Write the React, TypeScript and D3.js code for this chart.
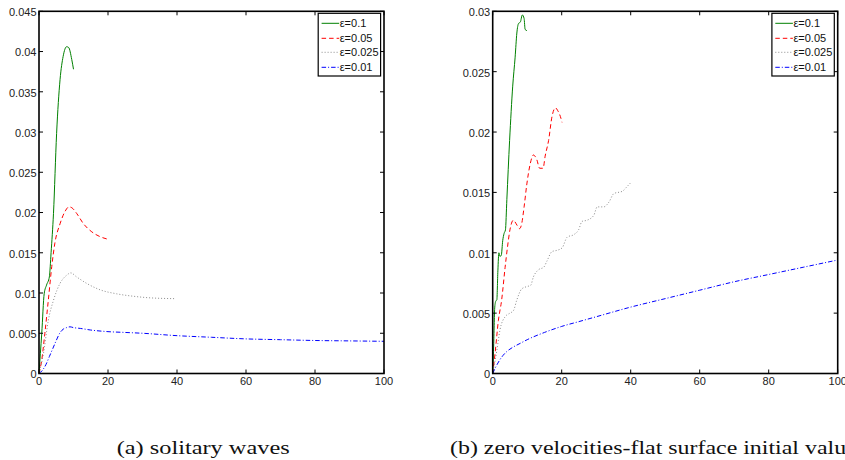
import React from "react";
import * as d3 from "d3";

// ---------- data ----------
const legendLabels = ["ε=0.1", "ε=0.05", "ε=0.025", "ε=0.01"];
const xTicks = [0, 20, 40, 60, 80, 100];
const yTicksA = [0, 0.005, 0.01, 0.015, 0.02, 0.025, 0.03, 0.035, 0.04, 0.045];
const yTicksB = [0, 0.005, 0.01, 0.015, 0.02, 0.025, 0.03];
const captionA = "(a) solitary waves";
const captionB = "(b) zero velocities-flat surface initial values";

// (a) solitary waves
const aEps01: [number, number][] = [
  [0, 0], [0.4, 0.0025], [0.8, 0.005], [1.5, 0.0099], [2.2, 0.011], [3, 0.012], [3.5, 0.015],
  [4.2, 0.0199], [5.1, 0.0298], [6.1, 0.0365], [7, 0.0394], [8, 0.0406], [8.6, 0.0405],
  [9.5, 0.039], [10, 0.0378],
];
const aEps005: [number, number][] = [
  [0, 0], [0.8, 0.0017], [1.7, 0.005], [2.7, 0.0091], [3.7, 0.0133], [4.6, 0.0162], [6.1, 0.0186],
  [7.5, 0.0201], [8.7, 0.0207], [9.5, 0.0206], [10.9, 0.0199], [12.9, 0.0186], [15.3, 0.0176],
  [17.7, 0.017], [19.8, 0.0167],
];
const aEps0025: [number, number][] = [
  [0, 0], [1.3, 0.0025], [2.7, 0.0066], [4.2, 0.0091], [6.1, 0.0112], [8, 0.0122], [9.2, 0.0125],
  [10.9, 0.012], [13.8, 0.0112], [17.7, 0.0104], [22.5, 0.0099], [27.3, 0.0096], [32.2, 0.0094],
  [39.4, 0.0093],
];
const aEps001: [number, number][] = [
  [0, 0], [1, 0.0004], [2, 0.0011], [3, 0.0021], [4, 0.0031], [5, 0.0041], [6, 0.005], [7, 0.0055],
  [8, 0.0057], [9, 0.0058], [10, 0.0057], [12, 0.0056], [15, 0.0054], [20, 0.0052], [25, 0.0051],
  [30, 0.005], [40, 0.0047], [50, 0.0045], [60, 0.0043], [70, 0.0042], [80, 0.0041], [90, 0.00405],
  [100, 0.004],
];

// (b) zero velocities-flat surface initial values
const bEps01: [number, number][] = [
  [0, 0], [0.3, 0.0025], [0.6, 0.0055], [0.9, 0.006], [1.2, 0.0061], [1.5, 0.0085], [1.8, 0.01],
  [2.1, 0.0097], [2.5, 0.0098], [2.9, 0.011], [3.3, 0.0116], [3.7, 0.0119], [4.1, 0.0144],
  [4.9, 0.0193], [5.8, 0.0238], [6.5, 0.0262], [7, 0.0282], [7.5, 0.029], [8, 0.0291],
  [8.6, 0.0297], [9.1, 0.0294], [9.4, 0.0285], [9.9, 0.0284],
];
const bEps005: [number, number][] = [
  [0, 0], [0.7, 0.0017], [1.65, 0.0044], [2.6, 0.0061], [3.6, 0.0088], [4.3, 0.0105], [5, 0.0119],
  [6, 0.0127], [6.8, 0.0124], [7.8, 0.012], [8.4, 0.0124], [9.1, 0.0138], [9.9, 0.0157],
  [10.9, 0.0174], [11.8, 0.0181], [12.8, 0.0177], [13.6, 0.017], [14.6, 0.017], [15.2, 0.018],
  [16.2, 0.0193], [17.2, 0.0213], [18.2, 0.022], [18.8, 0.0218], [19.6, 0.0213], [20.1, 0.0208],
];
const bEps0025: [number, number][] = [
  [0, 0], [1.2, 0.0019], [2.1, 0.0036], [3.6, 0.0047], [5, 0.005], [6, 0.0052], [7, 0.0061],
  [8.4, 0.007], [9.9, 0.0072], [11, 0.0073], [11.8, 0.008], [13.3, 0.0086], [14.8, 0.0088],
  [15.7, 0.0093], [17.2, 0.0101], [18.6, 0.0102], [20.1, 0.0104], [21.6, 0.0113], [23.5, 0.0115],
  [24.9, 0.0119], [25.9, 0.0126], [27.4, 0.0127], [29.3, 0.0131], [30.3, 0.0138], [32.2, 0.0138],
  [33.7, 0.0142], [35.1, 0.0149], [37.6, 0.0151], [39, 0.0155], [40, 0.0158],
];
const bEps001: [number, number][] = [
  [0, 0], [1, 0.0006], [2, 0.0011], [3, 0.0015], [4, 0.0018], [6, 0.0022], [8, 0.0025],
  [10, 0.0028], [15, 0.0034], [20, 0.0039], [25, 0.0043], [30, 0.0047], [40, 0.0055],
  [50, 0.0062], [60, 0.0069], [70, 0.0076], [80, 0.0082], [90, 0.0088], [100, 0.0094],
];

// ---------- styles ----------
const seriesStyles = [
  { color: "#008000", dash: "none" },
  { color: "#ff0000", dash: "4.5,3" },
  { color: "#8c8c8c", dash: "1,2" },
  { color: "#0000ff", dash: "4.5,2,1,2" },
];
const tickFont = "'Liberation Sans', Arial, Helvetica, sans-serif";
const captionFont = "'Liberation Serif', 'DejaVu Serif', serif";

type Series = [number, number][];

function fmt(v: number) {
  return String(+v.toFixed(4));
}

function Panel({ left, right, top, bottom, yMax, yTicks, series }: {
  left: number; right: number; top: number; bottom: number; yMax: number; yTicks: number[]; series: Series[];
}) {
  const x = d3.scaleLinear().domain([0, 100]).range([left, right]);
  const y = d3.scaleLinear().domain([0, yMax]).range([bottom, top]);
  const line = d3.line<[number, number]>().x((d) => x(d[0])).y((d) => y(d[1])).curve(d3.curveMonotoneX);
  const tl = 4;
  const lgRight = right - 3.4;
  const lgLeft = lgRight - 62.4;
  const lgTop = top + 2;
  const lgBottom = top + 64.7;
  const rowY = [23.3, 38.3, 52.3, 67.3];
  return (
    <g>
      {series.map((s, i) => (
        <path key={i} d={line(s) || ""} fill="none" stroke={seriesStyles[i].color}
          strokeWidth={1} strokeDasharray={seriesStyles[i].dash} />
      ))}
      {xTicks.map((t) => (
        <g key={"x" + t}>
          <line x1={x(t)} x2={x(t)} y1={bottom} y2={bottom - tl} stroke="#000" strokeWidth={1} />
          <line x1={x(t)} x2={x(t)} y1={top} y2={top + tl} stroke="#000" strokeWidth={1} />
          <text x={x(t)} y={bottom + 11.5} textAnchor="middle" fontFamily={tickFont} fontSize={11} fill="#222">{t}</text>
        </g>
      ))}
      {yTicks.map((t) => (
        <g key={"y" + t}>
          <line x1={left} x2={left + tl} y1={y(t)} y2={y(t)} stroke="#000" strokeWidth={1} />
          <line x1={right} x2={right - tl} y1={y(t)} y2={y(t)} stroke="#000" strokeWidth={1} />
          <text x={left - 2.5} y={y(t) + 1} dy="0.35em" textAnchor="end" fontFamily={tickFont} fontSize={11} fill="#222">{fmt(t)}</text>
        </g>
      ))}
      <rect x={left} y={top} width={right - left} height={bottom - top} fill="none" stroke="#000" strokeWidth={1.6} />
      <rect x={lgLeft} y={lgTop} width={lgRight - lgLeft} height={lgBottom - lgTop} fill="#fff" stroke="#000" strokeWidth={1.2} />
      {legendLabels.map((lab, i) => (
        <g key={lab}>
          <line x1={lgLeft + 3.4} x2={lgLeft + 21} y1={rowY[i]} y2={rowY[i]} stroke={seriesStyles[i].color}
            strokeWidth={1} strokeDasharray={seriesStyles[i].dash} />
          <text x={lgLeft + 21.5} y={rowY[i]} dy="0.35em" fontFamily={tickFont} fontSize={11} fill="#111">{lab}</text>
        </g>
      ))}
    </g>
  );
}

export default function App() {
  return (
    <svg width={845} height={460} style={{ position: "absolute", left: 0, top: 0, background: "#fff" }}>
      <rect x={0} y={0} width={845} height={460} fill="#fff" />
      <Panel left={39} right={384} top={11.3} bottom={373.5} yMax={0.045} yTicks={yTicksA}
        series={[aEps01, aEps005, aEps0025, aEps001]} />
      <Panel left={492.7} right={837.7} top={11.3} bottom={373.5} yMax={0.03} yTicks={yTicksB}
        series={[bEps01, bEps005, bEps0025, bEps001]} />
      <text x={116.7} y={454} fontFamily={captionFont} fontSize={19} fill="#111" textLength={173} lengthAdjust="spacingAndGlyphs">{captionA}</text>
      <text x={450} y={454} fontFamily={captionFont} fontSize={19} fill="#111" textLength={416} lengthAdjust="spacingAndGlyphs">{captionB}</text>
    </svg>
  );
}
